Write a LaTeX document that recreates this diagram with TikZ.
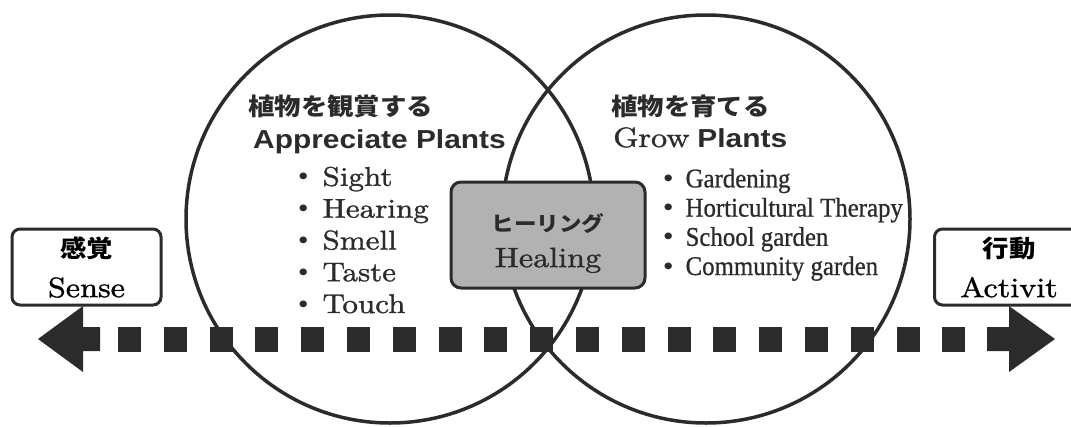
\documentclass[tikz,border=0pt]{standalone}
\usepackage{fontspec}
\newfontfamily\jpfont[FakeStretch=1.1, UprightFont=* Black]{Noto Sans CJK JP}
\newfontfamily\headfont[FakeStretch=1.15]{Liberation Sans}
\newfontfamily\wideserif[FakeStretch=1.15, FakeBold=1.2]{lmroman10-regular.otf}
\newfontfamily\tightserif[FakeStretch=0.92, FakeBold=0.8]{Liberation Serif}
\usetikzlibrary{positioning}
\definecolor{ink}{HTML}{2B2B2B}
\newcommand{\dotitem}[1][6pt]{{\jpfont\fontsize{24}{24}\selectfont ・}\hspace{#1}}
\tikzset{%
  venn/.style={circle, draw=ink, line width=3.5pt, minimum size=408pt, inner sep=0pt}, % the two big circles
  endbox/.style={draw=ink, line width=3pt, rounded corners=8pt, fill=white,
    minimum width=149pt, minimum height=76pt, inner sep=0pt, align=center,
    font=\wideserif\fontsize{28}{40}\selectfont},
  healbox/.style={draw=ink, line width=3pt, rounded corners=10pt, fill=black!30,
    minimum width=194pt, minimum height=106pt, inner sep=0pt},
  block/.style={fill=ink, minimum width=23pt, minimum height=25pt, inner sep=0pt},
  heading/.style={anchor=base west, inner sep=0pt, text=ink},
  itemlist/.style={anchor=base west, inner sep=0pt, align=left, text=ink}
}

\begin{document}
\begin{tikzpicture}[x=1pt, y=-1pt]
    \useasboundingbox (0,0) rectangle (1071,426);
    \node[venn] (appreciate) at (390,219) {};
    \node[venn] (grow) at (706,219) {};
    % headings
    \node[heading, font=\jpfont\fontsize{24}{24}\selectfont] (appjp) at (248,115) {植物を観賞する};
    \node[heading, font=\headfont\bfseries\fontsize{26}{26}\selectfont] (appen) at (253,148) {Appreciate Plants};
    \node[heading, font=\jpfont\fontsize{24}{24}\selectfont] (growjp) at (611,115) {植物を育てる};
    \node[heading, font=\fontsize{26}{26}\selectfont] (growen) at (613,147) {{\wideserif\fontsize{28}{28}\selectfont Grow} {\headfont\bfseries Plants}};
    % lists (base = last line)
    \node[itemlist, font=\wideserif\fontsize{27}{31.8}\selectfont] (senses) at (290,313)
      {\dotitem Sight\\ \dotitem Hearing\\ \dotitem Smell\\ \dotitem Taste\\ \dotitem Touch};
    \node[itemlist, font=\tightserif\fontsize{27}{29.2}\selectfont] (activities) at (655,275)
      {\dotitem[4pt]Gardening\\ \dotitem[4pt]Horticultural Therapy\\ \dotitem[4pt]School garden\\ \dotitem[4pt]Community garden};
    \node[healbox] (healing) at (548,235) {};
    \node[align=center, inner sep=0pt, text=ink, font=\wideserif\fontsize{28}{36}\selectfont] (healtext) at (548,243)
      {{\jpfont\fontsize{20.5}{36}\selectfont ヒーリング}\\Healing};
    % axis
    \foreach \k in {0,...,18}
      \node[block] (sq\k) at ({129.5+45.8*\k},339.5) {};
    \coordinate (senseend) at (38,339);
    \coordinate (activityend) at (1055,339);
    \fill[ink] (senseend) -- ++(45,-33) -- ++(0,21) -- ++(17,0) -- ++(0,24) -- ++(-17,0) -- ++(0,21) -- cycle;
    \fill[ink] (activityend) -- ++(-46,-33) -- ++(0,21) -- ++(-22,0) -- ++(0,24) -- ++(22,0) -- ++(0,21) -- cycle;
    \node[endbox] (sense) at (86.5,267) {{\jpfont\fontsize{24}{40}\selectfont 感覚}\\Sense};
    \node[endbox, anchor=west] (activity) at (933,267) {{\jpfont\fontsize{24}{40}\selectfont 行動}\\Activit};
  \end{tikzpicture}
\end{document}
